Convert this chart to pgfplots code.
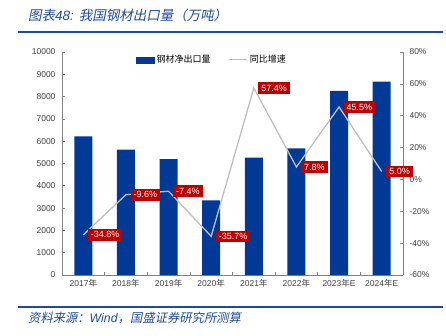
\documentclass[border=0pt]{standalone}
\usepackage{fontspec}
\setmainfont{Liberation Sans}
\newfontfamily\cjk{Noto Sans CJK SC}
\newfontfamily\cjksl[FakeSlant=0.2]{Noto Sans CJK SC}
\usepackage{pgfplots}
\pgfplotsset{compat=1.18}
\definecolor{barblue}{RGB}{0,57,150}
\definecolor{titleblue}{RGB}{30,75,160}
\definecolor{labred}{RGB}{192,0,0}
\definecolor{linegrey}{RGB}{191,191,191}
\definecolor{axgrey}{RGB}{130,130,130}
\definecolor{txtgrey}{RGB}{64,64,64}
\begin{document}
\begin{tikzpicture}
\path[use as bounding box] (0,0) rectangle (446pt,-336pt);
% title
\node[anchor=west, text=titleblue, font=\fontsize{13.5}{15}\selectfont, inner sep=0pt] at (28pt,-15pt) {{\cjksl 图表}\textit{48:} {\cjksl 我国钢材出口量（万吨）}};
\draw[titleblue, line width=1.4pt] (18pt,-32pt) -- (443pt,-32pt);
\draw[titleblue, line width=1.2pt] (18pt,-307pt) -- (443pt,-307pt);
\node[anchor=west, text=titleblue, font=\fontsize{12.3}{14}\selectfont, inner sep=0pt] at (28pt,-318pt) {{\cjksl 资料来源：}\textit{Wind}{\cjksl ，国盛证券研究所测算}};
\begin{axis}[
  at={(62pt,-275pt)}, anchor=south west,
  scale only axis, width=341pt, height=223pt,
  xmin=-0.5, xmax=7.5, ymin=0, ymax=10000,
  axis x line*=bottom, axis y line*=left,
  axis line style={axgrey, line width=0.6pt},
  xtick={0,...,7},
  minor xtick={-0.5,0.5,...,7.5},
  xticklabels={2017{\cjk 年},2018{\cjk 年},2019{\cjk 年},2020{\cjk 年},2021{\cjk 年},2022{\cjk 年},2023{\cjk 年}E,2024{\cjk 年}E},
  major x tick style={draw=none},
  minor x tick style={axgrey, line width=0.6pt},
  minor tick length=3pt,
  ytick={0,1000,...,10000},
  y tick style={axgrey, line width=0.6pt},
  tick align=inside, major tick length=3pt,
  /pgf/number format/assume math mode=true,
  /pgf/number format/1000 sep={},
  tick label style={font=\fontsize{8.5}{10}\selectfont, text=txtgrey},
  xticklabel style={yshift=-1pt},
  yticklabel style={xshift=-3pt},
  scaled y ticks=false,
  clip=false,
]
\addplot[ybar, bar width=18pt, fill=barblue, draw=none] coordinates {
 (0,6211) (1,5617) (2,5199) (3,3344) (4,5263) (5,5675) (6,8257) (7,8670)};
\end{axis}
\begin{axis}[
  at={(62pt,-275pt)}, anchor=south west,
  scale only axis, width=341pt, height=223pt,
  xmin=-0.5, xmax=7.5, ymin=-60, ymax=80,
  axis x line=none, axis y line*=right,
  axis line style={axgrey, line width=0.6pt},
  ytick={-60,-40,...,80},
  y tick style={axgrey, line width=0.6pt},
  tick align=inside, major tick length=3pt,
  /pgf/number format/assume math mode=true,
  tick label style={font=\fontsize{8.5}{10}\selectfont, text=txtgrey},
  yticklabel={\pgfmathprintnumber{\tick}\%},
  yticklabel style={xshift=3pt},
  clip=false,
  legend style={at={(0.44,0.965)}, anchor=center, draw=none, fill=none,
    font=\fontsize{9}{10}\selectfont, legend columns=2,
    /tikz/every even column/.append style={column sep=16pt}},
]
\addlegendimage{legend image code/.code={\fill[barblue] (0pt,-3pt) rectangle (18pt,3pt);}}
\addlegendentry{\cjk 钢材净出口量}
\addplot[linegrey, line width=1.3pt,
  nodes near coords={\pgfmathprintnumber[fixed,precision=1,fixed zerofill]{\pgfplotspointmeta}\%},
  every node near coord/.append style={anchor=west, xshift=4pt, fill=labred, text=white,
     font=\fontsize{9}{10}\selectfont, inner xsep=3pt, inner ysep=2.6pt},
  point meta=explicit symbolic,
  legend image code/.code={\draw[linegrey, line width=1.3pt] (0pt,0pt) -- (18pt,0pt);}
] coordinates {
 (0,-34.8) [-34.8] (1,-9.6) [-9.6] (2,-7.4) [-7.4] (3,-35.7) [-35.7] (4,57.4) [57.4] (5,7.8) [7.8] (6,45.5) [45.5] (7,5.0) [5.0]};
\addlegendentry{\cjk 同比增速}
\end{axis}
\end{tikzpicture}
\end{document}
